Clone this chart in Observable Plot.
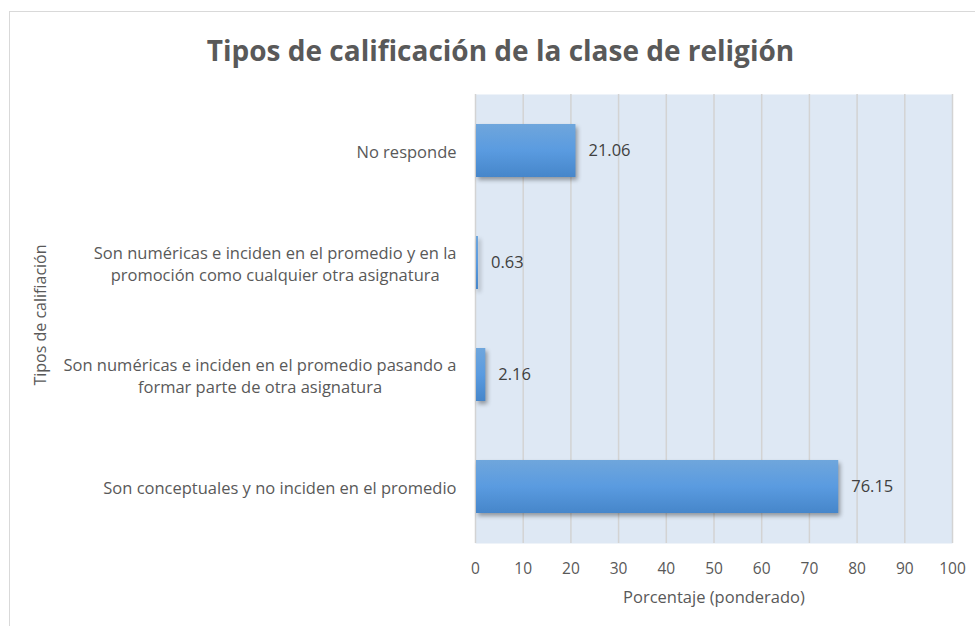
<!DOCTYPE html>
<html><head><meta charset="utf-8">
<script src="https://cdn.jsdelivr.net/npm/d3@7"></script>
<script src="https://cdn.jsdelivr.net/npm/@observablehq/plot@0.6"></script>
<style>
body{margin:0;background:#fff;overflow:hidden;}
#wrap{position:relative;width:975px;height:626px;overflow:hidden;}
#border{position:absolute;left:9px;top:11px;width:1000px;height:700px;border:1.5px solid #d9d9d9;box-sizing:border-box;}
#chart{position:absolute;left:0;top:0;}
</style></head><body>
<div id="wrap"><div id="border"></div><div id="chart"></div></div>
<script>
const title = "Tipos de calificación de la clase de religión";
const categories = [
  "No responde",
  "Son numéricas e inciden en el promedio y en la promoción como cualquier otra asignatura",
  "Son numéricas e inciden en el promedio pasando a formar parte de otra asignatura",
  "Son conceptuales y no inciden en el promedio"
];
const tickLabels = [
  "No responde",
  "Son numéricas e inciden en el promedio y en la\npromoción como cualquier otra asignatura",
  "Son numéricas e inciden en el promedio pasando a\nformar parte de otra asignatura",
  "Son conceptuales y no inciden en el promedio"
];
const values = [21.06, 0.63, 2.16, 76.15];
const xTicks = [0, 10, 20, 30, 40, 50, 60, 70, 80, 90, 100];
const xLabel = "Porcentaje (ponderado)";
const yLabel = "Tipos de califiación";

const table = categories.map((c, i) => ({category: c, value: values[i]}));

const defs = () => {
  const d = d3.create("svg:defs");
  const lg = d.append("linearGradient").attr("id", "barGrad")
    .attr("x1", 0).attr("y1", 0).attr("x2", 0).attr("y2", 1);
  lg.append("stop").attr("offset", "0%").attr("stop-color", "#6fa6dc");
  lg.append("stop").attr("offset", "50%").attr("stop-color", "#5a9be0");
  lg.append("stop").attr("offset", "100%").attr("stop-color", "#4686ca");
  return d.node();
};

const svg = Plot.plot({
  width: 975, height: 626,
  marginLeft: 475, marginRight: 23, marginTop: 94, marginBottom: 83,
  style: {fontFamily: "'Open Sans'", fontSize: "16.5px", color: "#595959", background: "transparent"},
  x: {domain: [0, 100], ticks: xTicks, label: null},
  y: {domain: categories, paddingInner: 0.53, paddingOuter: 0.265, label: null},
  marks: [
    defs,
    Plot.frame({fill: "#dee8f4", stroke: null}),
    Plot.gridX(xTicks, {stroke: "#d3d3d3", strokeOpacity: 1, strokeWidth: 1.5}),
    Plot.barX(table, {x: "value", y: "category", fill: "url(#barGrad)", insetLeft: 1}),
    Plot.text(table, {x: "value", y: "category", text: d => d.value.toFixed(2), textAnchor: "start", dx: 12.5, fill: "#404040"}),
    Plot.axisX(xTicks, {tickSize: 0, tickPadding: 19, fontSize: 15.5, fill: "#595959", label: null}),
    Plot.axisY({tickSize: 0, tickPadding: 19, tickFormat: d => tickLabels[categories.indexOf(d)], label: null, lineHeight: 1.3, fill: "#595959"}),
    Plot.text([title], {text: d => d, frameAnchor: "top", lineAnchor: "middle", dy: -42, dx: -213.5, fontSize: 28, fontWeight: "bold", fill: "#595959"}),
    Plot.text([xLabel], {text: d => d, frameAnchor: "bottom", lineAnchor: "middle", dy: 54, fill: "#595959"}),
    Plot.text([yLabel], {text: d => d, frameAnchor: "left", textAnchor: "middle", lineAnchor: "middle", dx: -435, dy: -4, rotate: -90, fontSize: 16, fill: "#595959"})
  ]
});

document.getElementById("chart").appendChild(svg);

// center multi-line tick labels within their block (right edge kept)
d3.select(svg).selectAll('g[aria-label="y-axis tick label"] text').each(function() {
  const tspans = this.querySelectorAll("tspan");
  if (tspans.length > 1) {
    const w = this.getBBox().width;
    this.setAttribute("text-anchor", "middle");
    tspans.forEach(t => t.setAttribute("x", -w / 2));
  }
});
d3.select(svg).select('g[aria-label="bar"]').style("filter", "drop-shadow(2px 3px 2px rgba(0,0,0,0.35))");
</script>
</body></html>
